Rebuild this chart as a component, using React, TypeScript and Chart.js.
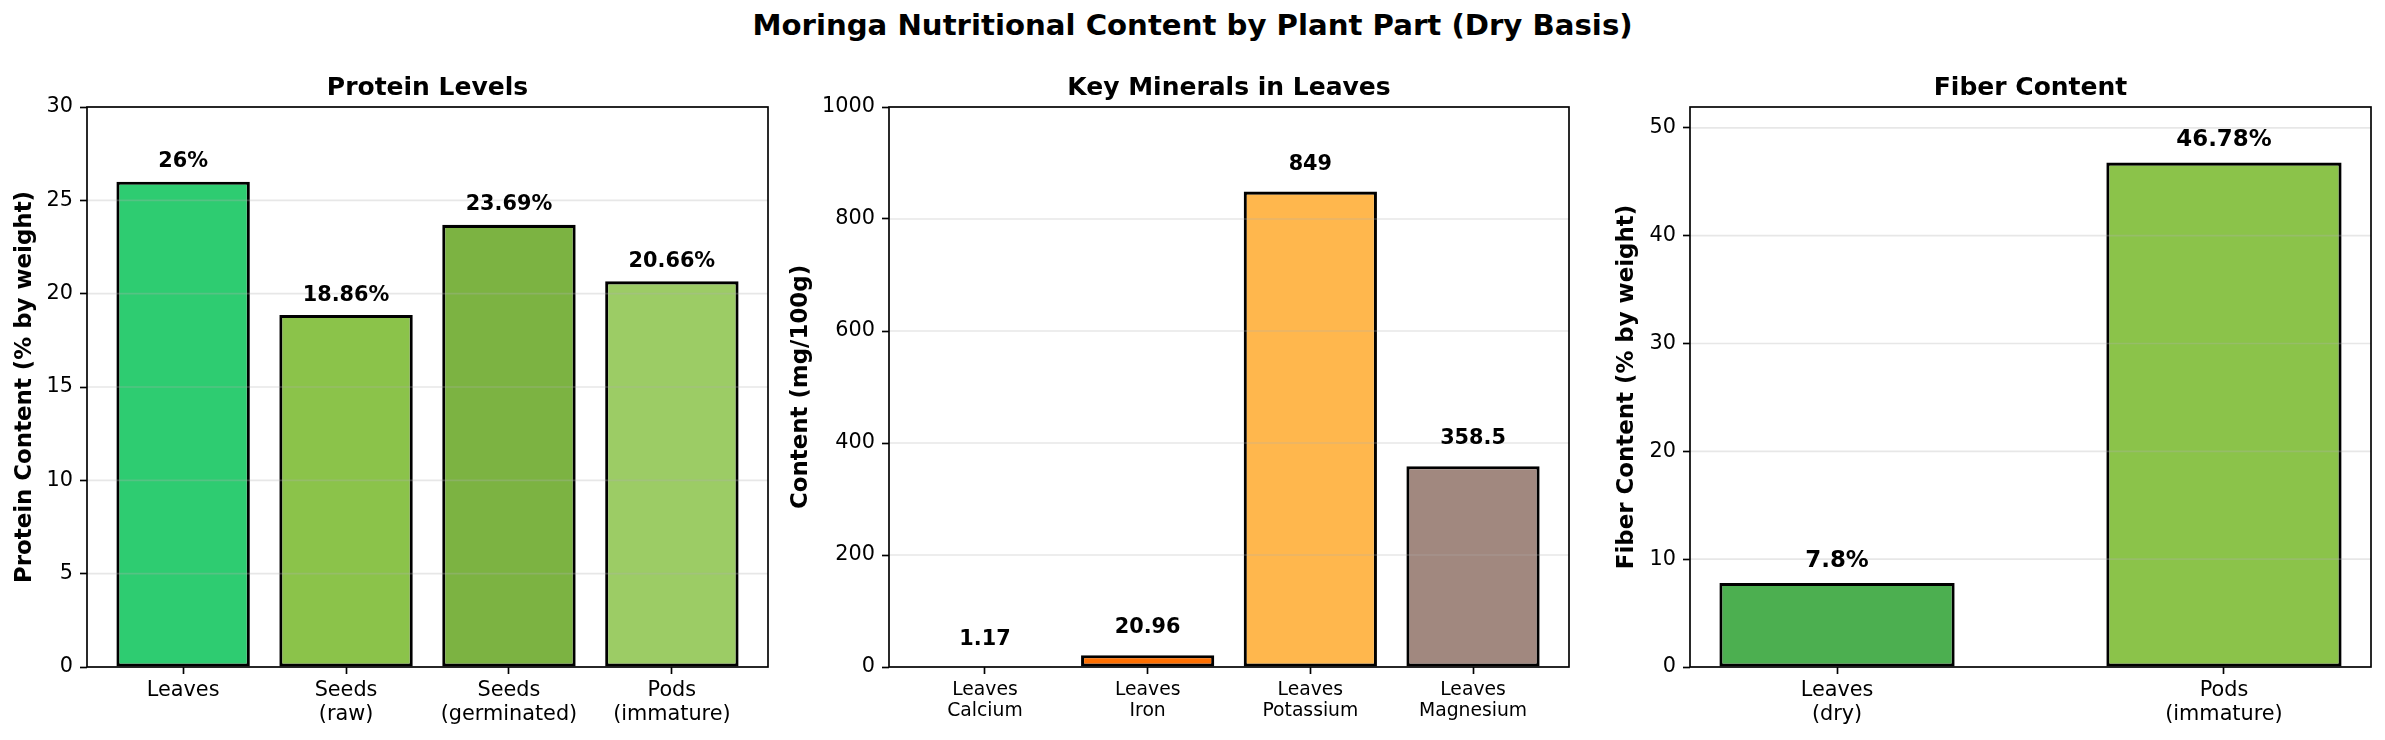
import React, { useEffect, useRef } from "react";
import { Chart, registerables } from "chart.js";

Chart.register(...registerables);

const FONT = "'DejaVu Sans', sans-serif";

const figureTitle = "Moringa Nutritional Content by Plant Part (Dry Basis)";

// Panel 1: protein
const proteinTitle = "Protein Levels";
const proteinYLabel = "Protein Content (% by weight)";
const proteinLabels = [["Leaves"], ["Seeds", "(raw)"], ["Seeds", "(germinated)"], ["Pods", "(immature)"]];
const proteinValues = [26, 18.86, 23.69, 20.66];
const proteinColors = ["#2ecc71", "#8bc34a", "#7cb342", "#9ccc65"];
const proteinTicks = [0, 5, 10, 15, 20, 25, 30];

// Panel 2: minerals
const mineralTitle = "Key Minerals in Leaves";
const mineralYLabel = "Content (mg/100g)";
const mineralLabels = [["Leaves", "Calcium"], ["Leaves", "Iron"], ["Leaves", "Potassium"], ["Leaves", "Magnesium"]];
const mineralValues = [1.17, 20.96, 849, 358.5];
const mineralColors = ["#e0e0e0", "#ff6f00", "#ffb74d", "#a1887f"];
const mineralTicks = [0, 200, 400, 600, 800, 1000];

// Panel 3: fiber
const fiberTitle = "Fiber Content";
const fiberYLabel = "Fiber Content (% by weight)";
const fiberLabels = [["Leaves", "(dry)"], ["Pods", "(immature)"]];
const fiberValues = [7.8, 46.78];
const fiberColors = ["#4caf50", "#8bc34a"];
const fiberTicks = [0, 10, 20, 30, 40, 50];

const W = 2385;
const H = 740;
const AREA_TOP = 107;
const AREA_BOTTOM = 667;

type Panel = {
  canvasLeft: number;
  canvasRight: number;
  areaLeft: number;
  areaRight: number;
  labels: string[][];
  values: number[];
  colors: string[];
  yMax: number;
  yTicks: number[];
  xMin: number;
  xMax: number;
  barPct: number;
  title: string;
  yLabel: string;
  yLabelCenter: number;
  valueOffset: number;
  valueFont: number;
  valueSuffix: string;
  xTickFont: number;
};

const panels: Panel[] = [
  {
    canvasLeft: 0, canvasRight: 840, areaLeft: 87, areaRight: 768,
    labels: proteinLabels, values: proteinValues, colors: proteinColors,
    yMax: 30, yTicks: proteinTicks, xMin: -0.59, xMax: 3.59, barPct: 0.819,
    title: proteinTitle, yLabel: proteinYLabel, yLabelCenter: 25,
    valueOffset: 0.5, valueFont: 20.8, valueSuffix: "%", xTickFont: 20.8,
  },
  {
    canvasLeft: 770, canvasRight: 1640, areaLeft: 889, areaRight: 1569,
    labels: mineralLabels, values: mineralValues, colors: mineralColors,
    yMax: 1000, yTicks: mineralTicks, xMin: -0.59, xMax: 3.59, barPct: 0.819,
    title: mineralTitle, yLabel: mineralYLabel, yLabelCenter: 801,
    valueOffset: 30, valueFont: 20.8, valueSuffix: "", xTickFont: 18.75,
  },
  {
    canvasLeft: 1580, canvasRight: W, areaLeft: 1690, areaRight: 2371,
    labels: fiberLabels, values: fiberValues, colors: fiberColors,
    yMax: 51.93, yTicks: fiberTicks, xMin: -0.38, xMax: 1.38, barPct: 0.608,
    title: fiberTitle, yLabel: fiberYLabel, yLabelCenter: 1627,
    valueOffset: 1, valueFont: 22.9, valueSuffix: "%", xTickFont: 20.8,
  },
];

function panelPlugin(cfg: Panel) {
  return {
    id: "panelDeco",
    afterDatasetsDraw(chart: any) {
      const ctx = chart.ctx;
      const area = chart.chartArea;
      const ys = chart.scales.y;
      const xs = chart.scales.x;
      ctx.save();
      // grid lines (above bars, like matplotlib default)
      ctx.strokeStyle = "rgba(176,176,176,0.3)";
      ctx.lineWidth = 1.67;
      cfg.yTicks.forEach((v) => {
        const y = ys.getPixelForValue(v);
        ctx.beginPath();
        ctx.moveTo(area.left, y);
        ctx.lineTo(area.right, y);
        ctx.stroke();
      });
      // spines
      ctx.strokeStyle = "#000";
      ctx.lineWidth = 1.67;
      ctx.strokeRect(area.left, area.top, area.right - area.left, area.bottom - area.top);
      // value labels
      ctx.fillStyle = "#000";
      ctx.textAlign = "center";
      ctx.textBaseline = "bottom";
      ctx.font = `bold ${cfg.valueFont}px ${FONT}`;
      cfg.values.forEach((v, i) => {
        const x = xs.getPixelForValue(i);
        const y = ys.getPixelForValue(v + cfg.valueOffset);
        ctx.fillText(`${v}${cfg.valueSuffix}`, x, y);
      });
      // subplot title
      ctx.textBaseline = "alphabetic";
      ctx.font = `bold 25px ${FONT}`;
      ctx.fillText(cfg.title, (area.left + area.right) / 2, area.top - 12.5);
      ctx.restore();
    },
  };
}

function makeChart(canvas: HTMLCanvasElement, cfg: Panel) {
  const yW = cfg.areaLeft - cfg.canvasLeft;
  const yLabelLH = 22.9 * 1.2;
  return new Chart(canvas, {
    type: "bar",
    data: {
      datasets: [
        {
          data: cfg.values.map((v, i) => ({ x: i, y: v })),
          backgroundColor: cfg.colors,
          borderColor: "#000",
          borderWidth: 3.1,
          borderSkipped: false,
          categoryPercentage: 1,
          barPercentage: cfg.barPct,
        } as any,
      ],
    },
    options: {
      animation: false,
      responsive: false,
      devicePixelRatio: 1,
      layout: {
        padding: { left: 0, right: cfg.canvasRight - cfg.areaRight, top: AREA_TOP, bottom: 0 },
      },
      plugins: {
        legend: { display: false },
        tooltip: { enabled: false },
        title: { display: false },
      },
      scales: {
        x: {
          type: "linear",
          offset: false,
          min: cfg.xMin,
          max: cfg.xMax,
          afterFit: (s: any) => {
            s.height = H - AREA_BOTTOM;
          },
          afterBuildTicks: (s: any) => {
            s.ticks = cfg.labels.map((_, i) => ({ value: i }));
          },
          ticks: {
            autoSkip: false,
            maxRotation: 0,
            minRotation: 0,
            padding: 5,
            color: "#000",
            font: { family: FONT, size: cfg.xTickFont, lineHeight: 1.157 },
            callback: (v: any) => cfg.labels[Math.round(Number(v))],
          },
          grid: {
            offset: false,
            drawOnChartArea: false,
            drawTicks: true,
            tickLength: 7,
            tickColor: "#000",
            tickWidth: 1.67,
          },
          border: { display: false },
        },
        y: {
          type: "linear",
          min: 0,
          max: cfg.yMax,
          afterFit: (s: any) => {
            s.width = yW;
          },
          afterBuildTicks: (s: any) => {
            s.ticks = cfg.yTicks.map((v) => ({ value: v }));
          },
          ticks: {
            autoSkip: false,
            padding: 7,
            color: "#000",
            font: { family: FONT, size: 20.8 },
            callback: (v: any) => String(v),
          },
          title: {
            display: true,
            text: cfg.yLabel,
            color: "#000",
            font: { family: FONT, size: 22.9, weight: "bold", lineHeight: 1.2 },
            padding: { top: cfg.yLabelCenter - cfg.canvasLeft - yLabelLH / 2, bottom: 0 },
          },
          grid: {
            drawOnChartArea: false,
            drawTicks: true,
            tickLength: 7,
            tickColor: "#000",
            tickWidth: 1.67,
          },
          border: { display: false },
        },
      },
    } as any,
    plugins: [panelPlugin(cfg)],
  });
}

export default function App() {
  const refs = [useRef<HTMLCanvasElement>(null), useRef<HTMLCanvasElement>(null), useRef<HTMLCanvasElement>(null)];
  useEffect(() => {
    const charts = panels.map((p, i) => makeChart(refs[i].current!, p));
    return () => charts.forEach((c) => c.destroy());
  }, []);
  return (
    <div style={{ position: "absolute", left: 0, top: 0, width: W, height: H, background: "#fff", overflow: "hidden" }}>
      <div
        style={{
          position: "absolute",
          left: 0,
          top: 11.3,
          width: W,
          textAlign: "center",
          fontFamily: FONT,
          fontWeight: "bold",
          fontSize: "29.2px",
          lineHeight: "29.2px",
          color: "#000",
          whiteSpace: "nowrap",
        }}
      >
        {figureTitle}
      </div>
      {panels.map((p, i) => (
        <canvas
          key={i}
          ref={refs[i]}
          width={p.canvasRight - p.canvasLeft}
          height={H}
          style={{
            position: "absolute",
            left: p.canvasLeft,
            top: 0,
            width: p.canvasRight - p.canvasLeft,
            height: H,
          }}
        />
      ))}
    </div>
  );
}
